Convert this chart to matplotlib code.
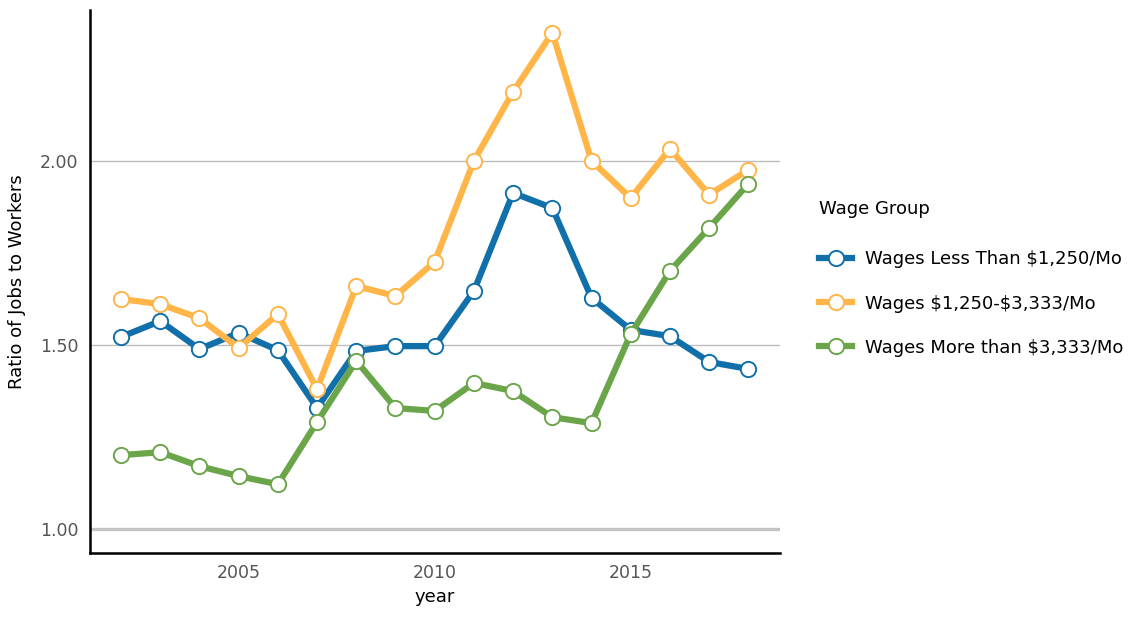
import matplotlib
matplotlib.use("Agg")
import matplotlib.pyplot as plt

years = list(range(2002, 2019))
wages_low = [1.522, 1.565, 1.489, 1.533, 1.486, 1.329, 1.484, 1.497, 1.497,
             1.647, 1.913, 1.872, 1.628, 1.541, 1.524, 1.454, 1.435]
wages_mid = [1.625, 1.611, 1.573, 1.492, 1.584, 1.380, 1.660, 1.633, 1.726,
             2.000, 2.188, 2.348, 2.000, 1.899, 2.033, 1.908, 1.976]
wages_high = [1.201, 1.209, 1.171, 1.144, 1.122, 1.291, 1.457, 1.329, 1.321,
              1.397, 1.375, 1.304, 1.288, 1.530, 1.701, 1.818, 1.938]

series_names = [r"Wages Less Than \$1,250/Mo", r"Wages \$1,250-\$3,333/Mo",
                r"Wages More than \$3,333/Mo"]
series_colors = ["#1170aa", "#ffb547", "#6ba54a"]

y_ticks = [1.0, 1.5, 2.0]
y_tick_labels = ["1.00", "1.50", "2.00"]
x_ticks = [2005, 2010, 2015]

plt.rcParams["font.family"] = ["DejaVu Sans"]

fig = plt.figure(figsize=(11.35, 6.18), dpi=100)
ax = fig.add_axes([0.079, 0.105, 0.608, 0.879])

ax.axhline(1.0, color="#c4c4c4", linewidth=2.4, zorder=1)
for yv in (1.5, 2.0):
    ax.axhline(yv, color="#bdbdbd", linewidth=1.0, zorder=1)

for vals, name, col in zip([wages_low, wages_mid, wages_high], series_names, series_colors):
    ax.plot(years, vals, color=col, linewidth=4.5, marker="o", markersize=11,
            markerfacecolor="white", markeredgecolor=col, markeredgewidth=1.4,
            label=name, zorder=3)

ax.set_xlim(2001.2, 2018.8)
ax.set_ylim(0.935, 2.41)
ax.set_xticks(x_ticks)
ax.set_xticklabels([str(x) for x in x_ticks])
ax.set_yticks(y_ticks)
ax.set_yticklabels(y_tick_labels)
ax.tick_params(length=0, labelsize=12.5, labelcolor="#555555", pad=8)

for side in ("top", "right"):
    ax.spines[side].set_visible(False)
for side in ("left", "bottom"):
    ax.spines[side].set_linewidth(1.8)
    ax.spines[side].set_color("black")

ax.set_xlabel("year", fontsize=13, labelpad=4)
ax.set_ylabel("Ratio of Jobs to Workers", fontsize=13, labelpad=10)

leg = ax.legend(title="Wage Group", loc="center left", bbox_to_anchor=(1.047, 0.5),
                frameon=False, fontsize=13, title_fontsize=13, handlelength=1.8,
                labelspacing=1.45, handletextpad=0.75, borderaxespad=0)
leg._legend_box.align = "left"
leg.get_title().set_position((0, 6))

fig.savefig("out.png", dpi=100)
